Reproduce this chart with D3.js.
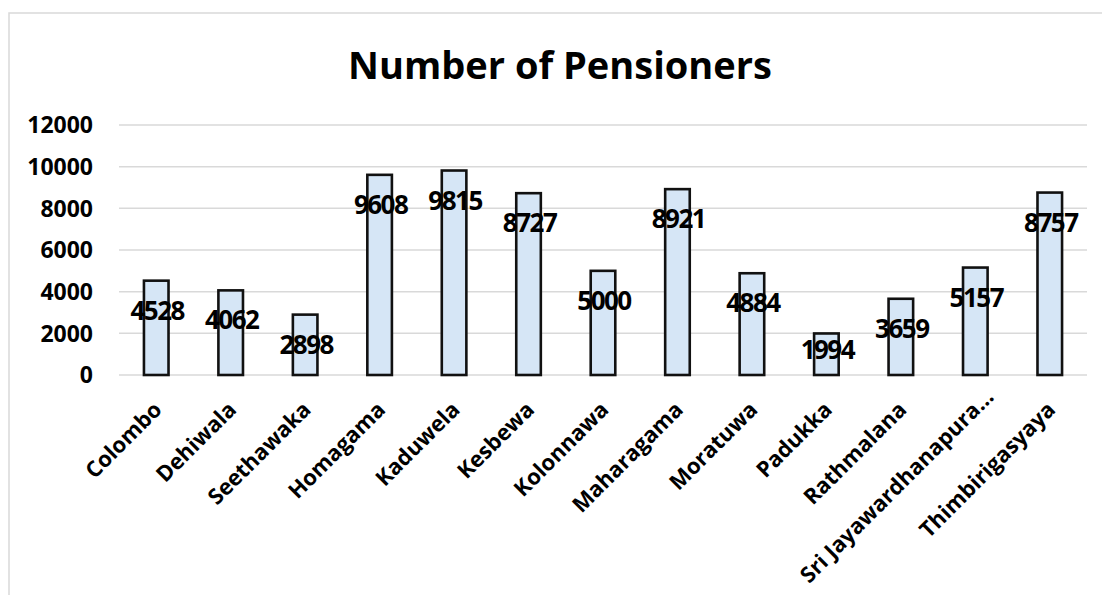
<!DOCTYPE html>
<html>
<head>
<meta charset="utf-8">
<script src="https://cdn.jsdelivr.net/npm/d3@7"></script>
<style>
body{margin:0;background:#fff;}
text{font-family:"Open Sans",sans-serif;font-weight:bold;fill:#000;}
</style>
</head>
<body>
<div id="chart"></div>
<script>
// pensioners chart

var categories=["Colombo","Dehiwala","Seethawaka","Homagama","Kaduwela","Kesbewa","Kolonnawa","Maharagama","Moratuwa","Padukka","Rathmalana","Sri Jayawardhanapura\u2026","Thimbirigasyaya"];
var pensioners=[4528,4062,2898,9608,9815,8727,5000,8921,4884,1994,3659,5157,8757];
var yTicks=[0,2000,4000,6000,8000,10000,12000];
var title="Number of Pensioners";

w=1102;
h=595;
var svg=d3.select("#chart").append("svg").attr("width",w).attr("height",h);

// frame
svg.append("path")
	.attr("d","M 9 "+h+" L 9 13 L "+w+" 13")
	.style("fill","none").style("stroke","#d9d9d9").style("stroke-width",1.5);

var x=d3.scaleBand().domain(categories).range([119,1087]).paddingInner(0.67).paddingOuter(0.335);
var y=d3.scaleLinear().domain([0,12000]).range([375,125]);

svg.append("text")
	.attr("x",560).attr("y",79)
	.attr("text-anchor","middle")
	.style("font-size","38px")
	.text(title);

// grid + y labels
svg.selectAll(".grid").data(yTicks).enter().append("line")
	.attr("x1",119).attr("x2",1087)
	.attr("y1",function(d) {return y(d);})
	.attr("y2",function(d) {return y(d);})
	.style("stroke","#d9d9d9").style("stroke-width",1.5);

svg.selectAll(".ylab").data(yTicks).enter().append("text")
	.attr("x",93)
	.attr("y",function(d) {return y(d);})
	.attr("dy","0.36em")
	.attr("text-anchor","end")
	.style("font-size","23px")
	.text(function(d) {return d;});

// bars
svg.selectAll(".bar").data(pensioners).enter().append("rect")
	.attr("x",function(d,i) {return x(categories[i]);})
	.attr("y",function(d) {return y(d);})
	.attr("width",x.bandwidth())
	.attr("height",function(d) {return y(0)-y(d);})
	.style("fill","#d6e6f6")
	.style("stroke","#111")
	.style("stroke-width",2.6);

// value labels
svg.selectAll(".val").data(pensioners).enter().append("text")
	.attr("x",function(d,i) {return x(categories[i])+x.bandwidth()/2+1;})
	.attr("y",function(d) {return Math.min(y(d)+39,y(0)-16);})
	.attr("text-anchor","middle")
	.style("font-size","26px")
	.style("letter-spacing","-1.5px")
	.text(function(d) {return d;});

// x labels (truncated one sits further along, as in the original)
svg.selectAll(".xlab").data(categories).enter().append("text")
	.attr("transform",function(d) {return "translate("+(x(d)+x.bandwidth()/2+7)+","+(y(0)+36)+") rotate(-45)";})
	.attr("dx",function(d) {return d.slice(-1)=="\u2026"?18:0;})
	.attr("text-anchor","end")
	.style("font-size","22px")
	.text(function(d) {return d;});
</script>
</body>
</html>
